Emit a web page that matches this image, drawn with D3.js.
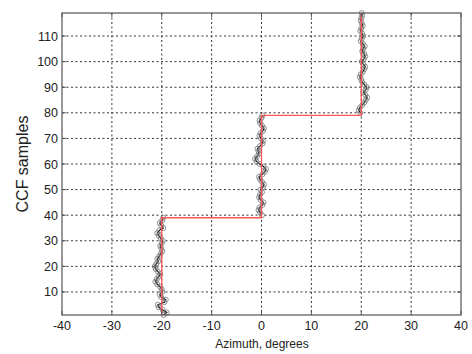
<!DOCTYPE html>
<html><head><meta charset="utf-8">
<script src="https://cdn.jsdelivr.net/npm/d3@7"></script>
<style>body{margin:0;background:#fff}svg{display:block}</style>
</head><body>
<script>
const xTicks = [-40,-30,-20,-10,0,10,20,30,40];
const yTicks = [10,20,30,40,50,60,70,80,90,100,110];
const samplesSeg1 = d3.range(1,40);
const samplesSeg2 = d3.range(40,80);
const samplesSeg3 = d3.range(80,120);
const estSeg1 = [-19.6,-19.0,-19.8,-20.6,-20.8,-19.5,-19.2,-20.1,-20.4,-19.9,-20.0,-20.3,-20.9,-21.3,-21.0,-20.6,-20.3,-20.8,-21.2,-21.4,-21.1,-20.7,-20.9,-20.5,-20.2,-19.9,-20.1,-20.3,-20.0,-19.8,-20.2,-20.6,-20.9,-20.5,-19.7,-20.1,-20.4,-19.9,-19.7];
const estSeg2 = [0.1,-0.3,-0.6,-0.4,0.2,0.4,-0.2,-0.5,-0.3,0.1,-0.2,0.3,0.5,0.1,-0.3,-0.5,0.2,0.7,0.9,0.4,-0.4,-1.0,-1.3,-0.9,-0.5,-0.6,-0.8,-0.3,0.2,0.3,-0.1,-0.4,-0.2,0.3,0.5,0.1,-0.3,-0.4,0.0,0.2];
const estSeg3 = [19.8,19.5,19.7,20.2,20.6,20.9,21.2,20.8,20.4,20.9,21.1,20.6,20.2,20.0,19.7,19.9,20.3,20.6,20.8,20.4,20.1,20.5,20.8,20.6,20.2,20.4,20.7,20.3,19.9,20.1,20.4,20.2,19.8,20.0,20.3,20.1,19.9,20.0,20.2,20.1];
const trueAz = [-20,-20,0,0,20,20];
const trueSample = [1,39,39,79,79,119];

const W=472,H=354, L=62,R=461,T=13,B=315;
const svg=d3.select("body").append("svg").attr("width",W).attr("height",H);
const x=d3.scaleLinear().domain([-40,40]).range([L,R]);
const y=d3.scaleLinear().domain([1,119]).range([B,T]);
const font="Liberation Sans, Arial, sans-serif";

// grid
const g=svg.append("g");
g.selectAll(".gx").data(xTicks.slice(1,-1)).join("line")
 .attr("x1",d=>x(d)).attr("x2",d=>x(d)).attr("y1",T).attr("y2",B)
 .attr("stroke","#333").attr("stroke-width",1).attr("stroke-dasharray","2,2.5");
g.selectAll(".gy").data(yTicks).join("line")
 .attr("y1",d=>y(d)).attr("y2",d=>y(d)).attr("x1",L).attr("x2",R)
 .attr("stroke","#333").attr("stroke-width",1).attr("stroke-dasharray","2,2.5");

// estimate traces (one per segment)
const segs = [[estSeg1,samplesSeg1],[estSeg2,samplesSeg2],[estSeg3,samplesSeg3]]
  .map(([e,s])=>s.map((v,i)=>[e[i],v]));
const line=d3.line().x(d=>x(d[0])).y(d=>y(d[1]));
segs.forEach(pts=>{
  svg.append("path").datum(pts).attr("d",line).attr("fill","none").attr("stroke","#111").attr("stroke-width",1.2);
  svg.append("g").selectAll("circle").data(pts).join("circle")
   .attr("cx",d=>x(d[0])).attr("cy",d=>y(d[1])).attr("r",2.5)
   .attr("fill","none").attr("stroke","#777").attr("stroke-width",0.8);
});

// true path
svg.append("path").datum(trueAz.map((a,i)=>[a,trueSample[i]])).attr("d",line)
 .attr("fill","none").attr("stroke","#ff5555").attr("stroke-width",1.3);

// axes
const ax=svg.append("g");
ax.append("rect").attr("x",L).attr("y",T).attr("width",R-L).attr("height",B-T)
 .attr("fill","none").attr("stroke","#555").attr("stroke-width",1.2);
const tl=4;
xTicks.forEach(d=>{
  ax.append("line").attr("x1",x(d)).attr("x2",x(d)).attr("y1",B).attr("y2",B-tl).attr("stroke","#555");
  ax.append("line").attr("x1",x(d)).attr("x2",x(d)).attr("y1",T).attr("y2",T+tl).attr("stroke","#555");
});
yTicks.forEach(d=>{
  ax.append("line").attr("y1",y(d)).attr("y2",y(d)).attr("x1",L).attr("x2",L+tl).attr("stroke","#555");
  ax.append("line").attr("y1",y(d)).attr("y2",y(d)).attr("x1",R).attr("x2",R-tl).attr("stroke","#555");
});
ax.selectAll(".xt").data(xTicks).join("text")
 .attr("x",d=>x(d)).attr("y",330).attr("text-anchor","middle")
 .attr("font-family",font).attr("font-size",12.5).attr("fill","#222").text(d=>d);
ax.selectAll(".yt").data(yTicks).join("text")
 .attr("x",58).attr("y",d=>y(d)+4.5).attr("text-anchor","end")
 .attr("font-family",font).attr("font-size",12.5).attr("fill","#222").text(d=>d);
svg.append("text").attr("x",262).attr("y",348).attr("text-anchor","middle")
 .attr("font-family",font).attr("font-size",12).attr("fill","#222").text("Azimuth, degrees");
svg.append("text").attr("transform","translate(28,164) rotate(-90)").attr("text-anchor","middle")
 .attr("font-family",font).attr("font-size",16).attr("fill","#222").text("CCF samples");
</script>
</body></html>
